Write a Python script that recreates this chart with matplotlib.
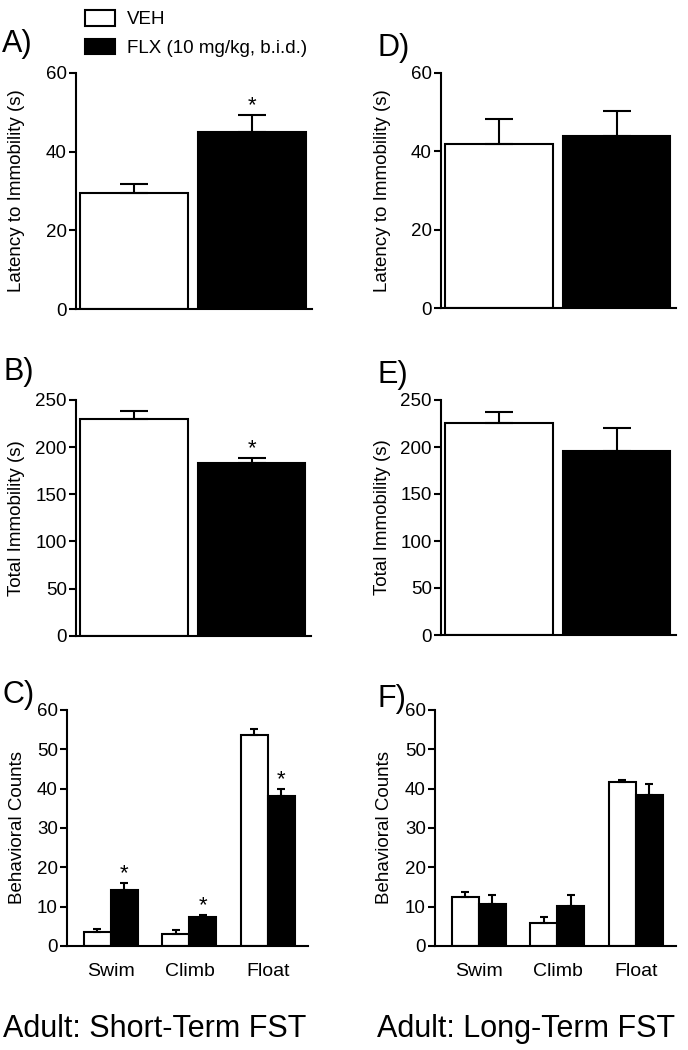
import matplotlib
matplotlib.use('Agg')
import matplotlib.pyplot as plt
import numpy as np

plt.rcParams['font.family'] = ['Liberation Sans', 'DejaVu Sans']

groups = ['VEH', 'FLX (10 mg/kg, b.i.d.)']
behaviors = ['Swim', 'Climb', 'Float']

# Short-term FST
st_latency_mean = [29.6, 45.0]
st_latency_sem = [2.1, 4.3]
st_latency_sig = [False, True]
st_immob_mean = [229.5, 183.5]
st_immob_sem = [8.8, 5.3]
st_immob_sig = [False, True]
st_veh_counts = [3.5, 3.1, 53.6]
st_veh_sem = [0.9, 1.0, 1.6]
st_flx_counts = [14.2, 7.5, 38.2]
st_flx_sem = [1.9, 0.5, 1.7]
st_flx_sig = [True, True, True]

# Long-term FST
lt_latency_mean = [41.8, 43.9]
lt_latency_sem = [6.4, 6.3]
lt_latency_sig = [False, False]
lt_immob_mean = [225.9, 196.0]
lt_immob_sem = [11.1, 24.0]
lt_immob_sig = [False, False]
lt_veh_counts = [12.5, 5.8, 41.7]
lt_veh_sem = [1.2, 1.5, 0.5]
lt_flx_counts = [10.8, 10.2, 38.4]
lt_flx_sem = [2.2, 2.8, 2.8]
lt_flx_sig = [False, False, False]

latency_ticks = [0, 20, 40, 60]
immob_ticks = [0, 50, 100, 150, 200, 250]
count_ticks = [0, 10, 20, 30, 40, 50, 60]

W, H = 688, 1050
fig = plt.figure(figsize=(W / 100, H / 100), dpi=100)
fig.patch.set_facecolor('white')
LW = 1.5


def add_ax(l, t, r, b):
    ax = fig.add_axes([l / W, 1 - b / H, (r - l) / W, (b - t) / H])
    ax._px = (l, r)
    return ax


def style(ax, ylim, yticks, label, label_x_px):
    ax.set_ylim(*ylim)
    ax.set_yticks(yticks)
    for s in ['top', 'right']:
        ax.spines[s].set_visible(False)
    for s in ['left', 'bottom']:
        ax.spines[s].set_linewidth(LW)
    ax.tick_params(axis='y', direction='out', length=5, width=LW,
                   labelsize=13.5, pad=1.5)
    ax.set_ylabel(label, fontsize=13.5, va='baseline')
    l, r = ax._px
    ax.yaxis.set_label_coords((label_x_px - l) / (r - l), 0.5)


def star(ax, x, y):
    ax.annotate('*', xy=(x, y), xytext=(0, 2.5), textcoords='offset points',
                ha='center', va='baseline', fontsize=16)


def two_bar(ax, means, sems, sig):
    x = np.arange(2)
    colors = ['white', 'black']
    bars = []
    for i in range(2):
        b = ax.bar(x[i], means[i], width=0.915, color=colors[i],
                   edgecolor='black', linewidth=LW, zorder=2)
        bars.append(b.patches[0])
    ax.errorbar(x, means, yerr=[np.zeros(2), sems], fmt='none',
                ecolor='black', elinewidth=LW, capsize=10, capthick=LW,
                zorder=3)
    for i in range(2):
        if sig[i]:
            star(ax, x[i], means[i] + sems[i])
    ax.set_xlim(-0.495, 1.505)
    ax.set_xticks([])
    return bars


def grouped(ax, veh, veh_e, flx, flx_e, sig):
    x = np.arange(len(behaviors))
    w = 0.344
    z = np.zeros(len(x))
    ax.bar(x - w / 2, veh, width=w, color='white', edgecolor='black',
           linewidth=LW, zorder=2)
    ax.bar(x + w / 2, flx, width=w, color='black', edgecolor='black',
           linewidth=LW, zorder=2)
    ax.errorbar(x - w / 2, veh, yerr=[z, veh_e], fmt='none', ecolor='black',
                elinewidth=LW, capsize=3, capthick=LW, zorder=3)
    ax.errorbar(x + w / 2, flx, yerr=[z, flx_e], fmt='none', ecolor='black',
                elinewidth=LW, capsize=3, capthick=LW, zorder=3)
    for i in range(len(x)):
        if sig[i]:
            star(ax, x[i] + w / 2, flx[i] + flx_e[i])
    ax.set_xticks(x)
    ax.set_xticklabels(behaviors, fontsize=14)
    ax.tick_params(axis='x', length=0, pad=12)
    ax.set_xlim(-0.56, 2.51)


# Panel A
axA = add_ax(76, 72.7, 311.7, 309.3)
bars = two_bar(axA, st_latency_mean, st_latency_sem, st_latency_sig)
style(axA, (0, 60), latency_ticks, 'Latency to Immobility (s)', 21)

# Panel B
axB = add_ax(76, 400, 311, 635.7)
two_bar(axB, st_immob_mean, st_immob_sem, st_immob_sig)
style(axB, (0, 250), immob_ticks, 'Total Immobility (s)', 21)

# Panel C
axC = add_ax(67, 710, 308, 946)
grouped(axC, st_veh_counts, st_veh_sem, st_flx_counts, st_flx_sem, st_flx_sig)
style(axC, (0, 60), count_ticks, 'Behavioral Counts', 22)

# Panel D
axD = add_ax(441, 72.7, 676, 308.3)
two_bar(axD, lt_latency_mean, lt_latency_sem, lt_latency_sig)
style(axD, (0, 60), latency_ticks, 'Latency to Immobility (s)', 387)

# Panel E
axE = add_ax(441, 400, 676, 635)
two_bar(axE, lt_immob_mean, lt_immob_sem, lt_immob_sig)
style(axE, (0, 250), immob_ticks, 'Total Immobility (s)', 387)

# Panel F
axF = add_ax(435, 710, 676, 946)
grouped(axF, lt_veh_counts, lt_veh_sem, lt_flx_counts, lt_flx_sem, lt_flx_sig)
style(axF, (0, 60), count_ticks, 'Behavioral Counts', 389)

# Legend
fig.legend(handles=bars, labels=groups, loc='upper left',
           bbox_to_anchor=(85 / W, 1 - 10 / H), frameon=False, fontsize=13.5,
           handlelength=1.6, handleheight=0.9, handletextpad=0.65,
           labelspacing=0.55, borderpad=0, borderaxespad=0)

# Panel letters
letters = [('A)', 2, 52), ('B)', 3, 380), ('C)', 3, 703),
           ('D)', 377, 56), ('E)', 377, 383), ('F)', 377, 707)]
for t, px, py in letters:
    fig.text(px / W, 1 - py / H, t, fontsize=22, va='baseline', ha='left')

# Bottom titles
fig.text(3 / W, 1 - 1037 / H, 'Adult: Short-Term FST', fontsize=22,
         va='baseline', ha='left')
fig.text(377 / W, 1 - 1037 / H, 'Adult: Long-Term FST', fontsize=22,
         va='baseline', ha='left')

fig.savefig('out.png', dpi=100, facecolor='white')
